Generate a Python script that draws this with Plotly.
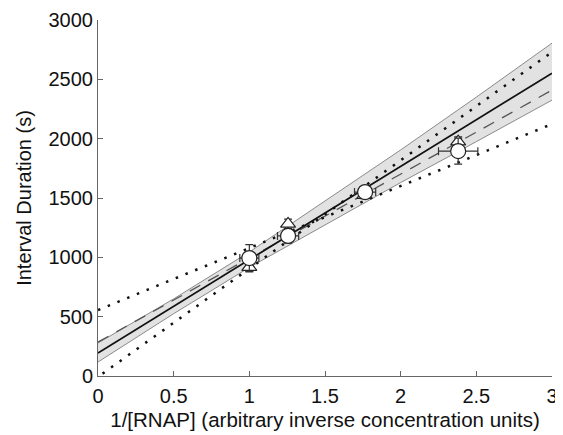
import plotly.graph_objects as go

# data
circ_x = [1.0, 1.256, 1.765, 2.38]
circ_y = [994, 1180, 1550, 1895]
circ_xerr = [0.063, 0.07, 0.07, 0.13]
circ_yerr = [113, 60, 50, 110]

tri_x = [1.0, 1.256, 1.76, 2.38]
tri_y = [918, 1282, 1525, 1975]
tri_yerr = [40, 40, 30, 40]

line_x = [0, 3]
solid_y = [194, 2552]
dashed_y = [286, 2409]

dotA_x = [0, 3]
dotA_y = [556, 2123]
dotB_x = [0.03, 3]
dotB_y = [20, 2730]

band_x = [0, 0.5, 1, 1.5, 2, 2.5, 3]
band_upper = [278, 650, 1045, 1475, 1905, 2350, 2805]
band_lower = [118, 525, 915, 1270, 1630, 1975, 2325]

FONT = "Liberation Sans, Arial, Helvetica, sans-serif"

fig = go.Figure()

fig.add_trace(go.Scatter(x=band_x, y=band_lower, mode="lines",
                         line=dict(color="#8a8a8a", width=1), showlegend=False))
fig.add_trace(go.Scatter(x=band_x, y=band_upper, mode="lines", fill="tonexty",
                         fillcolor="#e2e2e2",
                         line=dict(color="#8a8a8a", width=1), showlegend=False))
fig.add_trace(go.Scatter(x=line_x, y=dashed_y, mode="lines",
                         line=dict(color="#555555", width=1.3, dash="12px,9px"),
                         showlegend=False))
fig.add_trace(go.Scatter(x=line_x, y=solid_y, mode="lines",
                         line=dict(color="#111111", width=1.7), showlegend=False))
fig.add_trace(go.Scatter(x=dotA_x, y=dotA_y, mode="lines",
                         line=dict(color="#111111", width=2.5, dash="2.5px,8px"),
                         showlegend=False))
fig.add_trace(go.Scatter(x=dotB_x, y=dotB_y, mode="lines",
                         line=dict(color="#111111", width=2.5, dash="2.5px,8px"),
                         showlegend=False))

fig.add_trace(go.Scatter(x=tri_x, y=tri_y, mode="markers",
                         marker=dict(symbol="triangle-up", size=13, color="white",
                                     line=dict(color="#222222", width=1.2)),
                         error_y=dict(type="data", array=tri_yerr, color="#333333",
                                      thickness=1.2, width=4),
                         showlegend=False))
fig.add_trace(go.Scatter(x=circ_x, y=circ_y, mode="markers",
                         marker=dict(symbol="circle", size=15, color="white",
                                     line=dict(color="#222222", width=1.2)),
                         error_y=dict(type="data", array=circ_yerr, color="#333333",
                                      thickness=1.2, width=4),
                         error_x=dict(type="data", array=circ_xerr, color="#333333",
                                      thickness=1.2, width=4),
                         showlegend=False))

axis_common = dict(showline=True, linecolor="#666666", linewidth=1,
                   ticks="inside", ticklen=5, tickcolor="#666666",
                   showgrid=False, zeroline=False, mirror=False, automargin=False,
                   tickfont=dict(family=FONT, size=20, color="#111111"))

# page body has an 8px margin, so the figure is shrunk by 8px and margins offset
fig.update_layout(
    width=555, height=427,
    margin=dict(l=90, r=11, t=12, b=59),
    plot_bgcolor="white", paper_bgcolor="white",
    xaxis=dict(range=[0, 3], tickvals=[0, 0.5, 1, 1.5, 2, 2.5, 3],
               ticktext=["0", "0.5", "1", "1.5", "2", "2.5", "3"],
               ticklabelstandoff=2,
               title=dict(text="1/[RNAP] (arbitrary inverse concentration units)",
                          font=dict(family=FONT, size=20.5, color="#111111"),
                          standoff=6),
               **axis_common),
    yaxis=dict(range=[0, 3000], tickvals=[0, 500, 1000, 1500, 2000, 2500, 3000],
               title=dict(text="Interval Duration (s)",
                          font=dict(family=FONT, size=20, color="#111111"),
                          standoff=11),
               **axis_common),
)

fig.write_html("out.html")
